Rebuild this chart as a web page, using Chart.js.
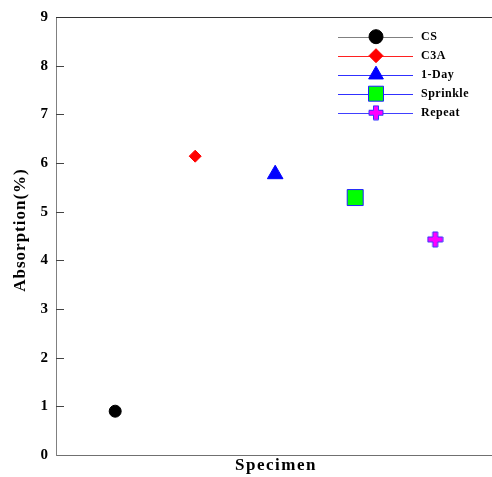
<!DOCTYPE html>
<html>
<head>
<meta charset="utf-8">
<script src="https://cdn.jsdelivr.net/npm/chart.js@4"></script>
<style>
  html, body { margin: 0; padding: 0; background: #fff; }
  #chart { display: block; }
</style>
</head>
<body>
<canvas id="chart" width="492" height="477"></canvas>
<script>
// Water absorption per specimen type
const specimens = ['CS', 'C3A', '1-Day', 'Sprinkle', 'Repeat'];
const positions = [1, 2, 3, 4, 5];
const absorption = [0.90, 6.14, 5.77, 5.29, 4.43];
const yMin = 0, yMax = 9, yStep = 1;
const xTitle = 'Specimen';
const yTitle = 'Absorption(%)';

const SERIF = "'Liberation Serif', 'Times New Roman', serif";

// thick plus sign: magenta fill, blue outline
function makeCross(size, arm) {
    const c = document.createElement('canvas');
    c.width = size; c.height = size;
    const g = c.getContext('2d');
    const m = size / 2, h = size / 2 - 1, a = arm / 2;
    g.beginPath();
    g.moveTo(m - a, m - h); g.lineTo(m + a, m - h); g.lineTo(m + a, m - a);
    g.lineTo(m + h, m - a); g.lineTo(m + h, m + a); g.lineTo(m + a, m + a);
    g.lineTo(m + a, m + h); g.lineTo(m - a, m + h); g.lineTo(m - a, m + a);
    g.lineTo(m - h, m + a); g.lineTo(m - h, m - a); g.lineTo(m - a, m - a);
    g.closePath();
    g.fillStyle = '#ff00ff';
    g.fill();
    g.strokeStyle = '#3333ff';
    g.lineWidth = 1;
    g.stroke();
    return c;
}
const crossImg = makeCross(17, 5);
const crossLegendImg = makeCross(16, 5);

const markerStyles = [
    { pointStyle: 'circle', radius: 6, legendRadius: 7, fill: '#000000', border: '#000000', line: '#808080' },
    { pointStyle: 'rectRot', radius: 6, legendRadius: 7, fill: '#ff0000', border: '#ff0000', line: '#ff2020' },
    { pointStyle: 'triangle', radius: 9, legendRadius: 8.5, fill: '#0000ff', border: '#0000ff', line: '#3030ff' },
    { pointStyle: 'rect', radius: 11.3, legendRadius: 10.6, fill: '#00ff00', border: '#2020ff', line: '#3030ff' },
    { pointStyle: crossImg, radius: 8, legendRadius: 8, fill: '#ff00ff', border: '#3333ff', line: '#4040ff' }
];

const datasets = specimens.map((name, i) => ({
    label: name,
    data: [{ x: positions[i], y: absorption[i] }],
    pointStyle: markerStyles[i].pointStyle,
    pointRadius: markerStyles[i].radius,
    pointHoverRadius: markerStyles[i].radius,
    backgroundColor: markerStyles[i].fill,
    borderColor: markerStyles[i].border,
    pointBorderWidth: 1,
    showLine: false
}));

// top frame line, inward tick marks on the y axis, axis titles
const framePlugin = {
    id: 'frame',
    afterDraw(chart) {
        const { ctx, chartArea } = chart;
        const y = chart.scales.y;
        ctx.save();
        ctx.strokeStyle = '#333333';
        ctx.lineWidth = 1;
        ctx.beginPath();
        ctx.moveTo(chartArea.left, chartArea.top + 0.5);
        ctx.lineTo(chartArea.right, chartArea.top + 0.5);
        ctx.stroke();
        ctx.strokeStyle = '#444444';
        for (let v = yMin + yStep; v < yMax; v += yStep) {
            const py = Math.round(y.getPixelForValue(v)) + 0.5;
            ctx.beginPath();
            ctx.moveTo(chartArea.left, py);
            ctx.lineTo(chartArea.left + 8, py);
            ctx.stroke();
        }

        ctx.fillStyle = '#000';
        ctx.font = 'bold 17px ' + SERIF;
        ctx.textAlign = 'center';
        ctx.textBaseline = 'middle';
        ctx.letterSpacing = '1.5px';
        ctx.fillText(xTitle, (chartArea.left + chartArea.right) / 2 + 2, 466);

        ctx.letterSpacing = '1px';
        ctx.translate(21, 230);
        ctx.rotate(-Math.PI / 2);
        ctx.fillText(yTitle, 0, 0);
        ctx.restore();
    }
};

// legend with a line running through each marker
const legendPlugin = {
    id: 'lineLegend',
    afterDraw(chart) {
        const { ctx } = chart;
        ctx.save();
        ctx.font = 'bold 12px ' + SERIF;
        ctx.letterSpacing = '0.5px';
        ctx.textBaseline = 'middle';
        ctx.textAlign = 'left';
        specimens.forEach((name, i) => {
            const st = markerStyles[i];
            const cy = 36.7 + i * 19;
            ctx.strokeStyle = st.line;
            ctx.lineWidth = 1;
            ctx.beginPath();
            ctx.moveTo(338, Math.round(cy) + 0.5);
            ctx.lineTo(413, Math.round(cy) + 0.5);
            ctx.stroke();
            if (i === 4) {
                ctx.drawImage(crossLegendImg, 376 - 8, cy - 8);
            } else {
                ctx.fillStyle = st.fill;
                ctx.strokeStyle = st.border;
                Chart.helpers.drawPoint(ctx, {
                    pointStyle: st.pointStyle,
                    rotation: 0,
                    radius: st.legendRadius,
                    borderWidth: 1
                }, 376, cy);
            }
            ctx.fillStyle = '#000';
            ctx.fillText(name, 421, cy);
        });
        ctx.restore();
    }
};

new Chart(document.getElementById('chart'), {
    type: 'scatter',
    data: { datasets },
    options: {
        responsive: false,
        animation: false,
        layout: { autoPadding: false, padding: { top: 16, right: 0, bottom: 0, left: 0 } },
        plugins: {
            legend: { display: false },
            tooltip: { enabled: false }
        },
        scales: {
            x: {
                type: 'linear',
                min: 0.26,
                max: 5.71,
                ticks: { display: false },
                grid: { display: false, drawTicks: false },
                border: { display: true, color: '#707070', width: 1 },
                afterFit(scale) { scale.height = 22; }
            },
            y: {
                min: yMin,
                max: yMax,
                ticks: {
                    stepSize: yStep,
                    color: '#000',
                    padding: 8,
                    font: { family: SERIF, size: 15, weight: 'bold' }
                },
                grid: { display: false, drawTicks: false },
                border: { display: true, color: '#808080', width: 1 },
                afterFit(scale) { scale.width = 56; }
            }
        }
    },
    plugins: [framePlugin, legendPlugin]
});
</script>
</body>
</html>
